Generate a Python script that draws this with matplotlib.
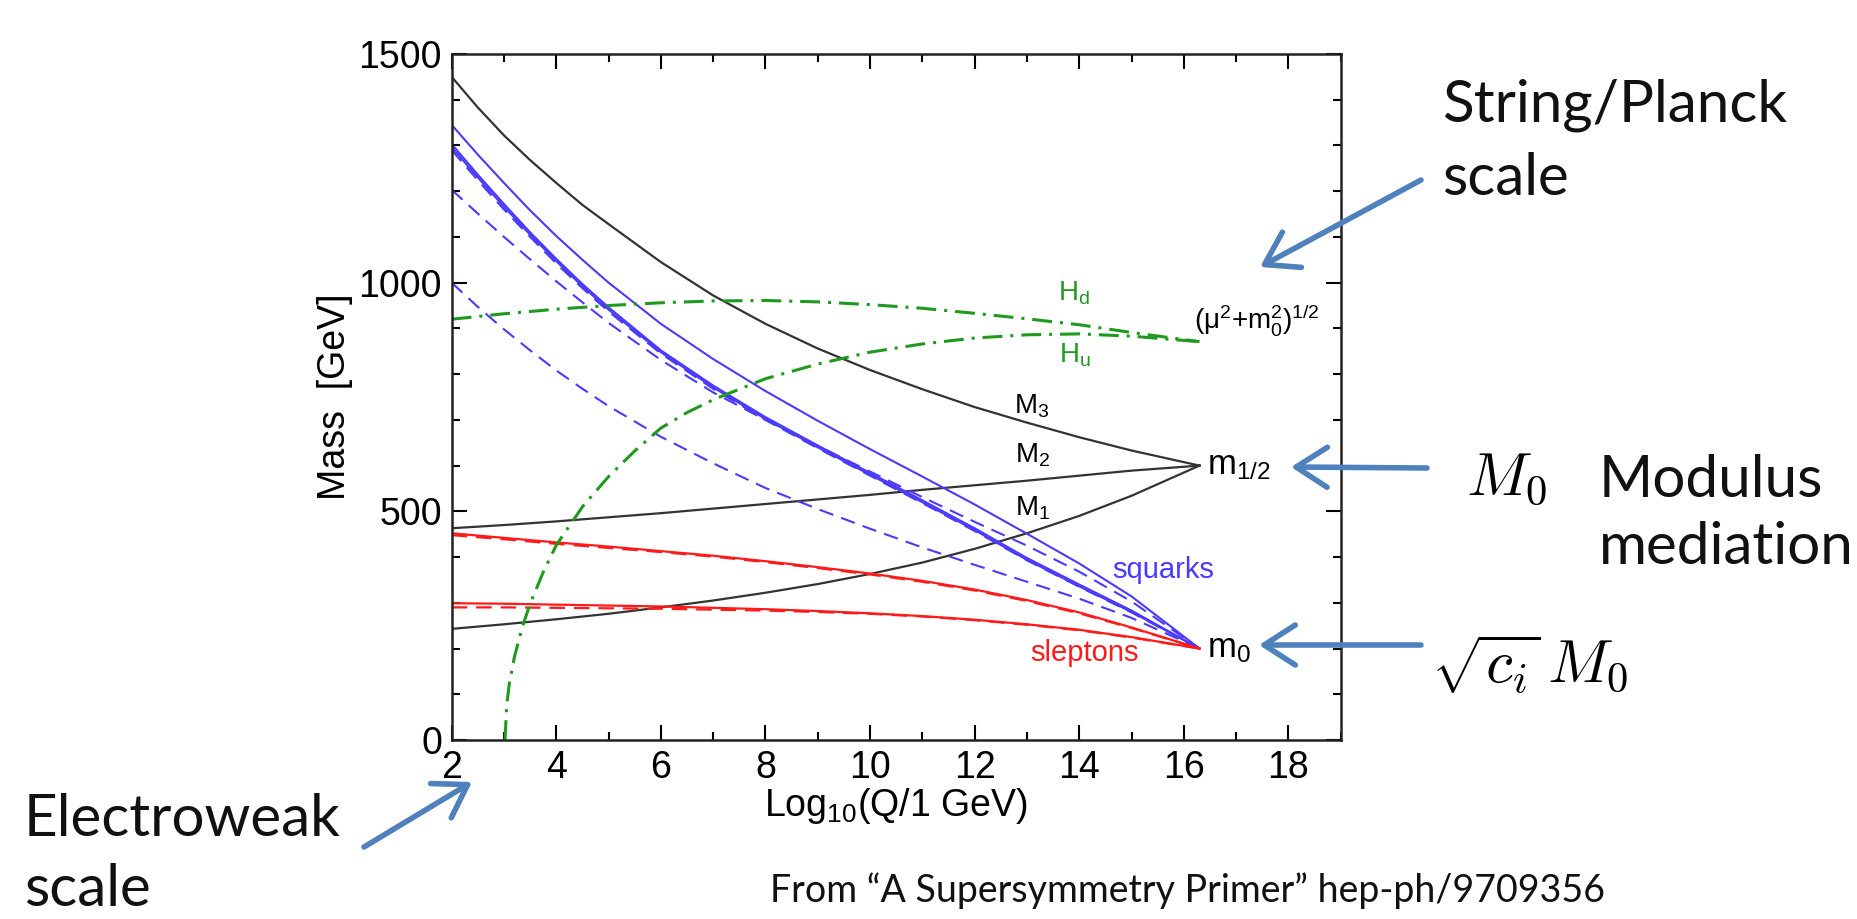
import matplotlib.pyplot as plt
from matplotlib.ticker import MultipleLocator

# Log10(Q/1 GeV) grids
q = [2, 3, 4, 5, 6, 7, 8, 9, 10, 11, 12, 13, 14, 15, 16.3]
q_fino = [2, 2.5, 3, 3.5, 4, 4.5, 5, 6, 7, 8, 9, 10, 11, 12, 13, 14, 15, 16.3]

# gaugino masses
m3 = [1450, 1383, 1322, 1268, 1218, 1170, 1128, 1045, 972, 910, 856, 809, 767, 728,
      694, 662, 633, 600]
m2 = [463, 470, 478, 487, 496, 506, 516, 526, 536, 547, 557, 567, 578, 589, 600]
m1 = [243, 253, 264, 276, 290, 305, 322, 341, 363, 388, 418, 452, 490, 534, 600]

# squarks (solid = 1st/2nd family, dashed = 3rd family), on q_fino
sq_ql = [1345, 1280, 1218, 1158, 1102, 1050, 1000, 910, 833, 763, 698, 636, 576, 515,
         451, 386, 314, 200]
sq_ur = [1303, 1236, 1172, 1110, 1052, 997, 946, 852, 775, 706, 644, 584, 524, 463,
         398, 340, 283, 200]
sq_dr = [1296, 1230, 1166, 1105, 1047, 992, 941, 848, 771, 702, 640, 580, 520, 459,
         394, 336, 280, 200]
sq_br = [1290, 1224, 1160, 1100, 1042, 988, 937, 845, 768, 700, 638, 578, 518, 457,
         393, 335, 279, 200]
sq_q3 = [1203, 1151, 1100, 1051, 1003, 957, 912, 831, 760, 700, 643, 587, 531, 477,
         425, 368, 303, 200]
sq_tr = [1000, 947, 898, 852, 808, 768, 730, 663, 605, 551, 505, 462, 421, 383, 346,
         309, 267, 200]

# sleptons
sl_l = [452, 442, 432, 423, 413, 403, 391, 378, 364, 348, 329, 306, 279, 246, 200]
sl_l3 = [448, 439, 429, 420, 411, 401, 389, 376, 362, 346, 327, 304, 277, 245, 200]
sl_r = [299, 298, 296, 294, 292, 289, 286, 282, 277, 271, 263, 253, 241, 225, 200]
sl_r3 = [290, 290, 289, 288, 287, 285, 283, 280, 276, 270, 262, 252, 240, 224, 200]

# Higgs
hd = [920, 932, 942, 950, 956, 960, 961, 958, 952, 944, 933, 921, 908, 891, 871]
hu_q = [3.02, 3.05, 3.1, 3.2, 3.35, 3.5, 3.75, 4, 4.5, 5, 5.5, 6, 6.5, 7, 8, 9, 10,
        11, 12, 13, 14, 15, 16.3]
hu = [0, 74, 122, 182, 247, 298, 367, 426, 510, 576, 632, 682, 716, 744, 790, 822,
      848, 866, 879, 886, 888, 883, 871]

W, H = 1857, 919

plt.rcParams['font.family'] = ['Liberation Sans', 'DejaVu Sans']
plt.rcParams['mathtext.fontset'] = 'custom'
plt.rcParams['mathtext.rm'] = 'Liberation Sans'
plt.rcParams['mathtext.it'] = 'Liberation Sans:italic'
plt.rcParams['mathtext.bf'] = 'Liberation Sans:bold'

fig = plt.figure(figsize=(W / 100, H / 100), dpi=100)
ax = fig.add_axes([451.7 / W, 1 - 740 / H, 889 / W, 686 / H])

preto = '#333333'
azul = '#4a3aff'
vermelho = '#ff1a1a'
verde = '#1f9a1f'
tracejado = (7, 4)
traco_ponto = (6.5, 2.6, 1, 2.6)

# gauginos
ax.plot(q_fino, m3, color=preto, lw=1.6)
for m in (m2, m1):
    ax.plot(q, m, color=preto, lw=1.6)

# squarks
for s in (sq_ql, sq_ur, sq_dr):
    ax.plot(q_fino, s, color=azul, lw=1.5)
for s in (sq_br, sq_q3, sq_tr):
    ax.plot(q_fino, s, color=azul, lw=1.5, dashes=tracejado)

# sleptons
for s in (sl_l, sl_r):
    ax.plot(q, s, color=vermelho, lw=1.6)
for s in (sl_l3, sl_r3):
    ax.plot(q, s, color=vermelho, lw=1.6, dashes=tracejado)

# Higgs
ax.plot(q, hd, color=verde, lw=2.2, dashes=traco_ponto)
ax.plot(hu_q, hu, color=verde, lw=2.2, dashes=traco_ponto)

ax.set_xlim(2, 19)
ax.set_ylim(0, 1500)
ax.set_xticks(range(2, 19, 2))
ax.set_yticks([0, 500, 1000, 1500])
ax.xaxis.set_minor_locator(MultipleLocator(1))
ax.yaxis.set_minor_locator(MultipleLocator(100))
ax.tick_params(which='both', direction='in', top=True, right=True, width=1.5,
               labelsize=27, pad=7)
ax.tick_params(which='major', length=11)
ax.tick_params(which='minor', length=6)
for sp in ax.spines.values():
    sp.set_linewidth(1.8)
    sp.set_color('#222222')

ax.set_xlabel('Log$_{10}$(Q/1 GeV)', fontsize=27, labelpad=0)
ax.set_ylabel('Mass  [GeV]', fontsize=27, labelpad=4)

# rótulos dentro do gráfico
ax.text(12.75, 730, 'M$_3$', fontsize=20, va='center')
ax.text(12.78, 622, 'M$_2$', fontsize=20, va='center')
ax.text(12.78, 506, 'M$_1$', fontsize=20, va='center')
ax.text(16.45, 601, 'm$_{1/2}$', fontsize=25, va='center')
ax.text(16.45, 200, 'm$_0$', fontsize=25, va='center')
ax.text(15.6, 372, 'squarks', fontsize=21, color=azul, ha='center', va='center')
ax.text(14.1, 190, 'sleptons', fontsize=21, color=vermelho, ha='center', va='center')
ax.text(13.6, 977, 'H$_\\mathrm{d}$', fontsize=20, color=verde, va='center')
ax.text(13.62, 842, 'H$_\\mathrm{u}$', fontsize=20, color=verde, va='center')
ax.text(16.2, 918, '(μ$^2$+m$_0^2$)$^{1/2}$', fontsize=20, va='center')

# textos e setas fora do gráfico (pixels da figura)
fonte_ppt = ['Lato', 'DejaVu Sans']
cor_txt = '#111111'


def texto(x, y, s, size=42, **kw):
    fig.text(x / W, 1 - y / H, s, fontsize=size, family=fonte_ppt, color=cor_txt,
             va='baseline', **kw)


texto(1442, 121, 'String/Planck')
texto(1442, 195, 'scale')
texto(1599, 497, 'Modulus')
texto(1599, 564, 'mediation')
texto(24, 836, 'Electroweak')
texto(24, 906, 'scale')
texto(770, 902, 'From “A Supersymmetry Primer” hep-ph/9709356', size=27)
fig.text(1466 / W, 1 - 495 / H, r'$M_0$', fontsize=44, math_fontfamily='cm',
         va='baseline')
fig.text(1431 / W, 1 - 683 / H, r'$\sqrt{c_i}\,M_0$', fontsize=44,
         math_fontfamily='cm', va='baseline')

cor_seta = '#4f81bd'
setas = [((1421, 180), (1260, 267)),
         ((1427, 468), (1291, 467)),
         ((1421, 645), (1259, 645)),
         ((364, 847), (472, 782))]
for (x0, y0), (x1, y1) in setas:
    ax.annotate('', xy=(x1, H - y1), xytext=(x0, H - y0), xycoords='figure pixels',
                textcoords='figure pixels', annotation_clip=False,
                arrowprops=dict(arrowstyle='->,head_length=0.7,head_width=0.45',
                                lw=4, color=cor_seta, mutation_scale=32,
                                shrinkA=0, shrinkB=0))

plt.savefig('out.png', dpi=100)
